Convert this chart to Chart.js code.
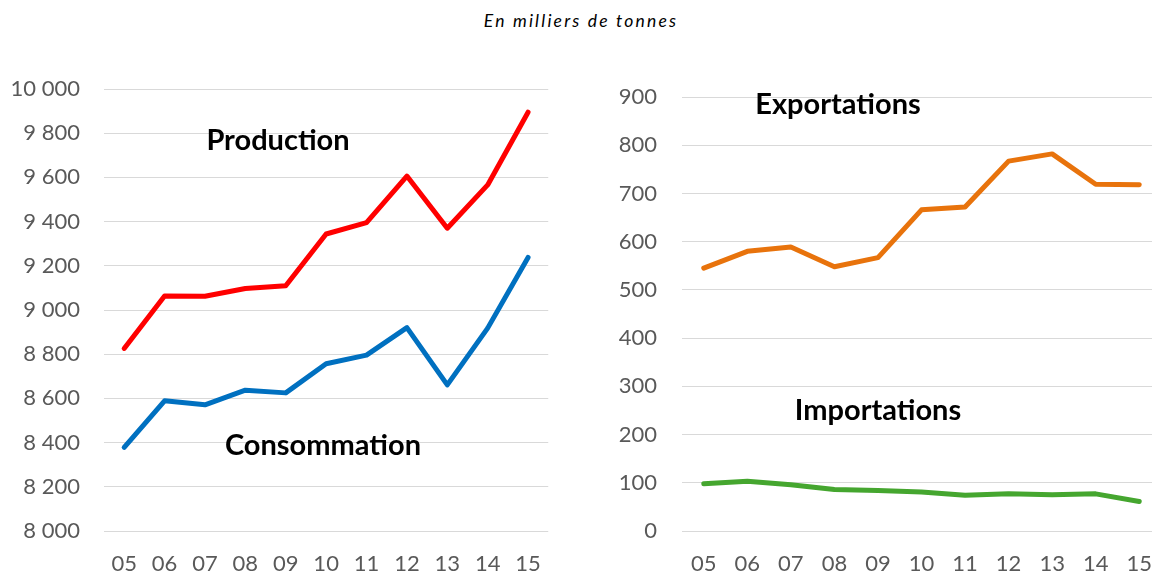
<!DOCTYPE html>
<html>
<head>
<meta charset="utf-8">
<script src="https://cdn.jsdelivr.net/npm/chart.js@4"></script>
<style>
  html, body { margin: 0; padding: 0; background: #fff; overflow: hidden; width: 1152px; height: 574px; }
  #title { position: absolute; left: 0; width: 1162px; top: 10px; text-align: center;
           font: italic 17.5px Lato, sans-serif; letter-spacing: 2.2px; color: #000; }
  #left { position: absolute; left: 0; top: 0; }
  #right { position: absolute; left: 600px; top: 0; }
</style>
</head>
<body>
<div id="title">En milliers de tonnes</div>
<canvas id="left" width="553" height="574"></canvas>
<canvas id="right" width="564" height="574"></canvas>
<script>
// années (axe horizontal)
const years = ['05', '06', '07', '08', '09', '10', '11', '12', '13', '14', '15'];

// graphique de gauche
const production = [8826, 9063, 9062, 9097, 9110, 9344, 9395, 9606, 9370, 9566, 9895];
const consommation = [8378, 8589, 8571, 8637, 8625, 8757, 8796, 8920, 8661, 8918, 9238];

// graphique de droite
const exportations = [545, 580, 589, 548, 567, 666, 672, 767, 782, 719, 718];
const importations = [98, 103, 96, 86, 84, 81, 74, 77, 75, 77, 61];

Chart.defaults.font.family = 'Lato';
Chart.defaults.color = '#595959';

const fmt = v => v.toString().replace(/\B(?=(\d{3})+(?!\d))/g, ' ');

// étiquettes des séries dessinées sur le graphique
function seriesLabels(items) {
  return {
    id: 'seriesLabels',
    afterDraw(chart) {
      const ctx = chart.ctx;
      ctx.save();
      ctx.font = 'bold 29px Lato';
      ctx.fillStyle = '#000';
      ctx.textAlign = 'center';
      ctx.textBaseline = 'middle';
      items.forEach(it => ctx.fillText(it.text, it.x, it.y));
      ctx.restore();
    },
  };
}

function lineSet(data, color) {
  return {
    data: data,
    borderColor: color,
    backgroundColor: color,
    borderWidth: 5,
    pointRadius: 0,
    tension: 0,
    borderCapStyle: 'round',
    borderJoinStyle: 'round',
  };
}

function makeChart(id, datasets, yOpts, yWidth, padRight, padTop, labels) {
  return new Chart(document.getElementById(id), {
    type: 'line',
    data: { labels: years, datasets: datasets },
    options: {
      responsive: false,
      animation: false,
      layout: { padding: { top: padTop, right: padRight, bottom: 0, left: 0 } },
      plugins: { legend: { display: false }, tooltip: { enabled: false } },
      scales: {
        x: {
          offset: true,
          grid: { display: false },
          border: { display: false },
          ticks: { font: { size: 22 }, padding: 12, autoSkip: false, maxRotation: 0 },
          afterFit: s => { s.height = 43; },
        },
        y: Object.assign({
          grid: { color: '#d9d9d9', lineWidth: 1, drawTicks: false },
          border: { display: false },
          afterFit: s => { s.width = yWidth; },
        }, yOpts),
      },
    },
    plugins: [seriesLabels(labels)],
  });
}

makeChart('left',
  [lineSet(production, '#ff0000'), lineSet(consommation, '#0070c0')],
  { min: 8000, max: 10000, ticks: { stepSize: 200, font: { size: 22 }, padding: 24, callback: fmt } },
  104, 4, 89,
  [{ text: 'Production', x: 278, y: 141 }, { text: 'Consommation', x: 323, y: 446 }]
);

makeChart('right',
  [lineSet(exportations, '#e8730c'), lineSet(importations, '#45a62f')],
  { min: 0, max: 900, ticks: { stepSize: 100, font: { size: 22 }, padding: 25 } },
  82, 0, 97,
  [{ text: 'Exportations', x: 238, y: 105 }, { text: 'Importations', x: 278, y: 411 }]
);
</script>
</body>
</html>
